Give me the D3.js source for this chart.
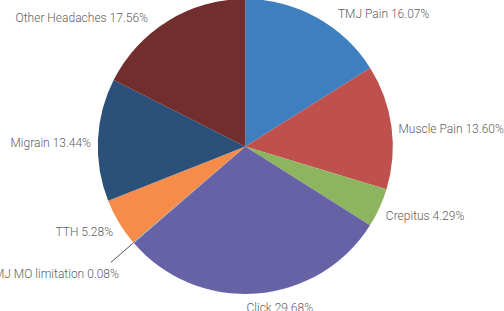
<!DOCTYPE html>
<html>
<head>
<meta charset="utf-8">
<script src="https://cdn.jsdelivr.net/npm/d3@7/dist/d3.min.js"></script>
<style>
  html, body { margin: 0; padding: 0; background: #ffffff; }
  svg { display: block; }
  text { font-family: Roboto, "Liberation Sans", Arial, sans-serif; font-weight: 300; }
</style>
</head>
<body>
<svg id="chart" width="504" height="311"></svg>
<script>
// ---- data ----
const categories = ["TMJ Pain", "Muscle Pain", "Crepitus", "Click", "TMJ MO limitation", "TTH", "Migrain", "Other Headaches"];
const values = [16.07, 13.60, 4.29, 29.68, 0.08, 5.28, 13.44, 17.56];
const colors = ["#3d7fbf", "#c0504d", "#8db560", "#6762a6", "#4bacc6", "#f68b4a", "#2b5079", "#722e2c"];

// ---- layout ----
const W = 504, H = 311;
const cx = 245.3, cy = 146.5, r = 147.5;
const svg = d3.select("#chart");
const g = svg.append("g").attr("transform", `translate(${cx},${cy})`);

const data = categories.map((c, i) => ({ name: c, value: values[i], color: colors[i] }));
const pie = d3.pie().sort(null).value(d => d.value).startAngle(0).endAngle(2 * Math.PI);
const arcs = pie(data);
const arc = d3.arc().innerRadius(0).outerRadius(r);

g.selectAll("path.slice").data(arcs).join("path")
  .attr("class", "slice")
  .attr("d", arc)
  .attr("fill", d => d.data.color);

const fmt = v => d3.format(".2f")(v) + "%";
const gap = 7;
const textColor = "#606060";

arcs.forEach(d => {
  const a = (d.startAngle + d.endAngle) / 2;
  const s = Math.sin(a), c = Math.cos(a);
  const label = d.data.name + " " + fmt(d.data.value);
  if (d.data.value < 1) {
    // leader line for a tiny slice
    const r0 = r, r1 = r + 30;
    const x0 = r0 * s, y0 = -r0 * c, x1 = r1 * s, y1 = -r1 * c;
    g.append("line")
      .attr("x1", x0).attr("y1", y0).attr("x2", x1).attr("y2", y1)
      .attr("stroke", "#555").attr("stroke-width", 1);
    g.append("text")
      .attr("x", x1 + 8).attr("y", y1 + 11)
      .attr("dy", "0.35em")
      .attr("text-anchor", "end")
      .attr("font-size", 12)
      .attr("fill", textColor)
      .text(label);
    return;
  }
  const anchor = s > 0.2 ? "start" : (s < -0.2 ? "end" : "middle");
  const push = Math.sign(s) * 26 * Math.max(0, Math.abs(c) - 0.6) / 0.4;
  const x = (r + gap) * s + push - (anchor === "middle" ? 3 : 0);
  const y = -(r + gap) * c + 3 + 4 * Math.max(0, -c);
  g.append("text")
    .attr("x", x).attr("y", y)
    .attr("dy", "0.35em")
    .attr("text-anchor", anchor)
    .attr("font-size", 12)
    .attr("fill", textColor)
    .text(label);
});
</script>
</body>
</html>
